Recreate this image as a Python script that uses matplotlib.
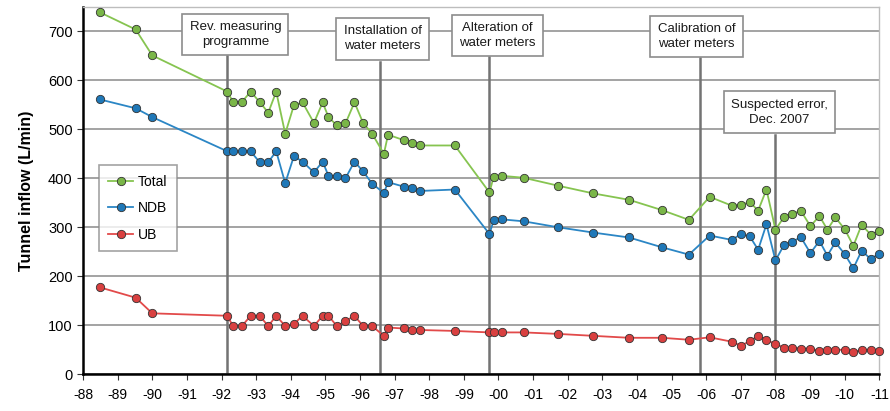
import matplotlib

matplotlib.use("Agg")
import matplotlib.pyplot as plt

# decimal year of each measurement
years = [1988.49, 1989.52, 1990.00, 1992.17, 1992.33, 1992.59, 1992.84, 1993.10,
         1993.35, 1993.58, 1993.84, 1994.09, 1994.34, 1994.67, 1994.92, 1995.09,
         1995.33, 1995.58, 1995.84, 1996.09, 1996.35, 1996.69, 1996.81, 1997.26,
         1997.49, 1997.72, 1998.74, 1999.74, 1999.86, 2000.10, 2000.73, 2001.71,
         2002.74, 2003.77, 2004.72, 2005.50, 2006.10, 2006.74, 2007.00, 2007.26,
         2007.50, 2007.74, 2008.00, 2008.25, 2008.49, 2008.73, 2009.01, 2009.27,
         2009.50, 2009.73, 2010.00, 2010.25, 2010.49, 2010.75, 2011.00]

total = [739, 704, 651, 577, 556, 556, 577, 556, 534, 577, 491, 549, 555, 513,
         555, 525, 508, 512, 555, 513, 491, 450, 489, 478, 473, 467, 467, 371,
         403, 405, 401, 385, 369, 356, 335, 315, 362, 344, 346, 351, 334, 377,
         295, 321, 327, 334, 302, 323, 295, 320, 296, 262, 305, 285, 293]

ndb = [561, 543, 525, 455, 455, 455, 455, 433, 433, 455, 390, 445, 434, 412,
       434, 405, 405, 400, 434, 414, 389, 370, 392, 383, 380, 374, 377, 286,
       314, 316, 312, 300, 289, 279, 259, 244, 283, 274, 286, 281, 254, 306,
       232, 264, 270, 280, 247, 272, 242, 269, 245, 216, 252, 235, 246]

ub = [177, 156, 124, 119, 98, 98, 119, 119, 98, 119, 98, 102, 119, 98,
      119, 119, 98, 108, 119, 98, 98, 78, 95, 93, 90, 90, 88, 85,
      85, 85, 85, 82, 78, 74, 74, 70, 75, 66, 58, 67, 78, 70,
      61, 54, 54, 52, 52, 47, 50, 50, 49, 44, 50, 49, 46]

# events: line year, label, label position, top of the line
event_years = [1992.17, 1996.57, 1999.74, 2005.81, 2008.00]
event_labels = ["Rev. measuring\nprogramme", "Installation of\nwater meters",
                "Alteration of\nwater meters", "Calibration of\nwater meters",
                "Suspected error,\nDec. 2007"]
label_x = [1992.40, 1996.65, 1999.97, 2005.72, 2008.12]
label_y = [694, 685, 692, 690, 535]
line_top = [649, 638, 647, 645, 489]

tick_years = list(range(1988, 2012))
tick_labels = [f"-{y % 100:02d}" for y in tick_years]

plt.rcParams["font.family"] = ["Liberation Sans", "DejaVu Sans"]

fig = plt.figure(figsize=(8.9, 4.11), dpi=100)
ax = fig.add_axes([0.0933, 0.09, 0.8947, 0.893])

series = [
    ("Total", total, "#86c450", "#7ab648"),
    ("NDB", ndb, "#2b86c5", "#1f78b8"),
    ("UB", ub, "#e24a4a", "#d94040"),
]
for name, vals, lc, mc in series:
    ax.plot(years, vals, color=lc, lw=1.3, marker="o", ms=6,
            mfc=mc, mec="#333333", mew=0.6, label=name, zorder=4, clip_on=False)

for x, txt, tx, ty, top in zip(event_years, event_labels, label_x, label_y, line_top):
    ax.plot([x, x], [0, top], color="#737373", lw=1.8, zorder=2)
    ax.text(tx, ty, txt, ha="center", va="center", fontsize=9.5,
            color="#1a1a1a", linespacing=1.35, zorder=5,
            bbox=dict(boxstyle="square,pad=0.55", fc="white", ec="#8c8c8c", lw=1.2))

ax.set_xlim(1988, 2011)
ax.set_ylim(0, 750)
ax.set_xticks(tick_years)
ax.set_xticklabels(tick_labels)
ax.set_yticks(range(0, 800, 100))
ax.tick_params(axis="both", labelsize=10.5, direction="out", length=4, color="#333333")
ax.tick_params(axis="x", pad=6, labelsize=10)

ax.grid(axis="y", color="#8a8a8a", lw=1.1, zorder=0)
ax.set_axisbelow(True)
for side in ("left", "bottom"):
    ax.spines[side].set_linewidth(1.8)
    ax.spines[side].set_color("black")
for side in ("top", "right"):
    ax.spines[side].set_color("#bdbdbd")
    ax.spines[side].set_linewidth(1.0)

ax.set_ylabel("Tunnel inflow (L/min)", fontsize=11.5, fontweight="bold", labelpad=10)

leg = ax.legend(loc="upper left", bbox_to_anchor=(0.011, 0.589), fontsize=10,
                frameon=True, fancybox=False, edgecolor="#8c8c8c", handlelength=1.8,
                handletextpad=0.3, borderpad=0.7, labelspacing=0.9)
leg.get_frame().set_linewidth(1.2)
leg.set_zorder(6)

fig.savefig("out.png", dpi=100)
